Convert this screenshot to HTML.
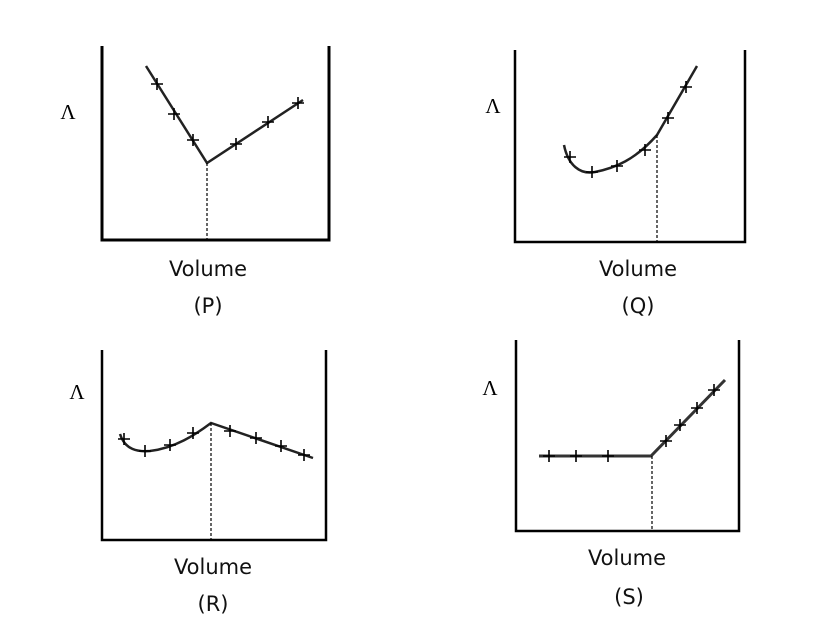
<!DOCTYPE html>
<html><head><meta charset="utf-8"><style>body{margin:0;background:#fff}svg{display:block}</style></head><body>
<svg width="829" height="628" xmlns="http://www.w3.org/2000/svg">
<defs><path id="p" d="M-6,0H6M0,-6V6" stroke="#000" stroke-width="1.6"/></defs>
<g fill="none" stroke="#000">
<path d="M102,46V240H329V46" stroke-width="3"/>
<path d="M146,66L207,163L303,100" stroke="#222" stroke-width="2.5"/>
<path d="M207,163V240" stroke-width="1.2" stroke-dasharray="3,2"/>
<path d="M515,50V242H745V50" stroke-width="2.5"/>
<path d="M564,145C568,165 580,175 595,172C615,168 635,160 657,135L697,66" stroke="#222" stroke-width="2.5"/>
<path d="M657,135V242" stroke-width="1.2" stroke-dasharray="3,2"/>
<path d="M102,350V540H326V350" stroke-width="2.5"/>
<path d="M120,434C125,450 138,452 150,451C175,448 195,435 211,423L313,458" stroke="#222" stroke-width="2.5"/>
<path d="M211,423V540" stroke-width="1.2" stroke-dasharray="3,2"/>
<path d="M516,340V531H739V340" stroke-width="2.5"/>
<path d="M539,456H651L725,380" stroke="#333" stroke-width="3"/>
<path d="M652,456V531" stroke-width="1.2" stroke-dasharray="3,2"/>
</g>
<g>
<use href="#p" x="157" y="84"/><use href="#p" x="174" y="114"/><use href="#p" x="193" y="140"/><use href="#p" x="236" y="144"/><use href="#p" x="268" y="122"/><use href="#p" x="298" y="103"/>
<use href="#p" x="570" y="157"/><use href="#p" x="592" y="172"/><use href="#p" x="617" y="166"/><use href="#p" x="645" y="150"/><use href="#p" x="668" y="118"/><use href="#p" x="686" y="87"/>
<use href="#p" x="124" y="439"/><use href="#p" x="145" y="451"/><use href="#p" x="170" y="445"/><use href="#p" x="193" y="433"/><use href="#p" x="230" y="431"/><use href="#p" x="256" y="438"/><use href="#p" x="281" y="446"/><use href="#p" x="304" y="455"/>
<use href="#p" x="549" y="456"/><use href="#p" x="576" y="456"/><use href="#p" x="608" y="456"/><use href="#p" x="666" y="441"/><use href="#p" x="680" y="425"/><use href="#p" x="697" y="408"/><use href="#p" x="714" y="390"/>
</g>
<g font-family="Liberation Serif, serif" font-size="21" text-anchor="middle">
<text x="68" y="119">Λ</text><text x="493" y="113">Λ</text><text x="77" y="399">Λ</text><text x="490" y="395">Λ</text>
</g>
<g font-family="DejaVu Sans, sans-serif" font-size="21" text-anchor="middle" fill="#111">
<text x="208" y="276">Volume</text><text x="208" y="313">(P)</text>
<text x="638" y="276">Volume</text><text x="638" y="313">(Q)</text>
<text x="213" y="574">Volume</text><text x="213" y="611">(R)</text>
<text x="627" y="565">Volume</text><text x="629" y="604">(S)</text>
</g>
</svg>
</body></html>
